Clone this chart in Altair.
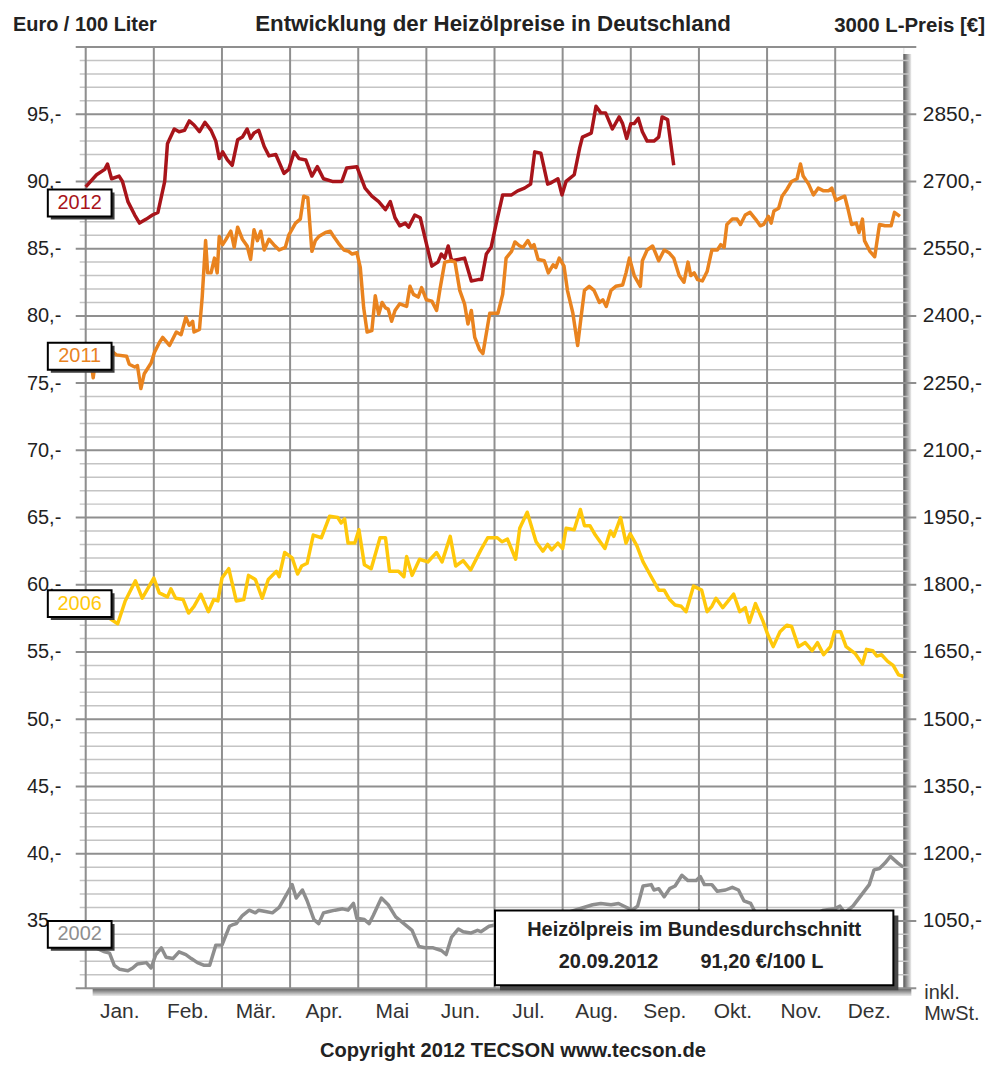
import json
import altair as alt
import pandas as pd

FONT = "Liberation Sans"
W, H = 821, 945

# ---------------- data ----------------
months = ["Jan.", "Feb.", "Mär.", "Apr.", "Mai", "Jun.", "Jul.", "Aug.", "Sep.", "Okt.", "Nov.", "Dez."]
years = ["2012", "2011", "2006", "2002"]
colors = ["#A8141A", "#E9831F", "#FFC80A", "#8E8E8E"]

# (month position, Euro / 100 Liter)
series_2012 = [(0.00,89.6),(0.16,90.5),(0.28,90.9),(0.32,91.3),(0.38,90.2),(0.49,90.4),(0.54,90.0),(0.62,88.5),(0.72,87.5),(0.79,86.9),
    (0.89,87.2),(0.98,87.5),(1.06,87.7),(1.16,90.0),(1.20,92.8),(1.30,93.9),(1.37,93.7),(1.45,93.8),(1.52,94.5),(1.59,94.2),
    (1.67,93.7),(1.75,94.4),(1.84,93.8),(1.91,93.0),(1.96,91.7),(2.01,92.2),(2.08,91.6),(2.15,91.2),(2.23,93.1),(2.30,93.3),
    (2.37,93.9),(2.42,93.2),(2.47,93.6),(2.54,93.8),(2.62,92.6),(2.69,91.9),(2.79,92.0),(2.91,90.6),(2.98,90.9),(3.06,92.2),
    (3.13,91.7),(3.23,91.6),(3.32,90.4),(3.40,91.1),(3.49,90.2),(3.62,90.0),(3.76,90.0),(3.83,91.0),(3.98,91.1),(4.10,89.5),
    (4.20,88.9),(4.30,88.5),(4.40,87.9),(4.47,88.5),(4.54,87.3),(4.61,86.7),(4.69,86.9),(4.74,86.6),(4.83,87.5),(4.91,87.3),
    (4.98,85.8),(5.08,83.7),(5.17,84.0),(5.22,84.6),(5.27,84.3),(5.32,85.2),(5.37,84.1),(5.47,84.2),(5.56,84.3),(5.66,82.6),
    (5.76,82.7),(5.81,82.7),(5.88,84.6),(5.95,85.1),(6.03,87.0),(6.12,89.0),(6.25,89.0),(6.34,89.3),(6.44,89.5),(6.53,89.8),
    (6.59,92.2),(6.68,92.1),(6.78,89.8),(6.83,89.9),(6.93,90.2),(6.99,89.0),(7.05,90.0),(7.17,90.5),(7.25,92.5),(7.29,93.3),
    (7.42,93.6),(7.49,95.6),(7.56,95.1),(7.63,95.1),(7.73,93.9),(7.83,94.8),(7.88,94.3),(7.94,93.2),(8.00,94.3),(8.05,94.3),
    (8.11,94.7),(8.17,93.7),(8.24,93.0),(8.34,93.0),(8.41,93.3),(8.46,94.8),(8.54,94.6),(8.63,91.2)]

series_2011 = [(0.00,77.5),(0.06,77.3),(0.11,75.4),(0.16,77.4),(0.40,77.3),(0.45,77.1),(0.60,77.0),(0.64,76.4),(0.72,76.2),(0.76,76.3),
    (0.81,74.6),(0.86,75.7),(0.96,76.5),(1.01,77.3),(1.08,78.0),(1.13,78.4),(1.23,77.8),(1.33,78.8),(1.40,78.6),(1.47,79.9),
    (1.52,79.3),(1.57,79.6),(1.59,78.8),(1.67,79.0),(1.71,81.4),(1.76,85.6),(1.79,83.2),(1.84,83.2),(1.89,84.3),(1.93,83.2),
    (1.96,85.9),(2.01,85.3),(2.06,85.7),(2.13,86.3),(2.18,85.1),(2.23,86.6),(2.30,85.7),(2.37,85.2),(2.42,84.2),(2.47,86.4),
    (2.52,85.6),(2.57,86.3),(2.62,84.9),(2.69,85.7),(2.76,85.3),(2.84,84.9),(2.93,85.1),(2.98,86.0),(3.08,86.9),(3.15,87.2),
    (3.20,88.9),(3.26,88.8),(3.32,84.8),(3.37,85.6),(3.42,85.9),(3.52,86.2),(3.59,86.3),(3.64,85.9),(3.71,85.4),(3.79,84.9),
    (3.86,84.8),(3.91,84.6),(3.98,84.7),(4.03,83.6),(4.08,80.6),(4.13,78.8),(4.20,78.9),(4.25,81.5),(4.30,80.1),(4.35,81.0),
    (4.40,80.6),(4.44,80.5),(4.49,79.6),(4.54,80.4),(4.61,80.9),(4.71,80.7),(4.76,82.2),(4.81,81.6),(4.88,81.4),(4.93,82.1),
    (5.00,81.2),(5.08,81.1),(5.15,80.4),(5.20,82.0),(5.27,84.0),(5.37,84.1),(5.42,84.0),(5.49,81.9),(5.56,80.9),(5.61,79.4),
    (5.66,80.4),(5.71,78.4),(5.78,77.5),(5.83,77.2),(5.93,80.2),(6.05,80.2),(6.12,81.6),(6.17,84.3),(6.25,84.8),(6.30,85.5),
    (6.37,85.2),(6.42,85.1),(6.49,85.6),(6.54,85.1),(6.58,85.3),(6.64,84.2),(6.73,84.1),(6.79,83.2),(6.86,83.8),(6.90,83.6),
    (6.95,84.3),(7.02,83.7),(7.07,81.9),(7.15,80.2),(7.22,77.8),(7.27,79.9),(7.32,81.9),(7.39,82.2),(7.46,81.9),(7.54,81.0),
    (7.59,81.2),(7.64,80.7),(7.71,81.9),(7.78,82.2),(7.88,82.3),(7.93,83.2),(7.98,84.3),(8.05,83.0),(8.14,82.2),(8.17,84.1),
    (8.24,84.9),(8.32,85.2),(8.41,84.1),(8.49,84.9),(8.56,84.7),(8.63,84.3),(8.71,83.0),(8.78,82.5),(8.84,84.0),(8.88,83.0),
    (8.93,83.2),(8.98,82.7),(9.05,82.6),(9.12,83.3),(9.19,84.9),(9.27,84.9),(9.32,85.3),(9.37,85.1),(9.41,86.8),(9.49,87.2),
    (9.56,87.2),(9.61,86.8),(9.68,87.5),(9.75,87.7),(9.83,87.2),(9.90,86.7),(9.95,86.8),(10.02,87.4),(10.06,86.9),(10.10,87.8),
    (10.17,88.0),(10.22,88.9),(10.29,89.4),(10.36,90.0),(10.44,90.2),(10.49,91.3),(10.53,90.4),(10.61,89.8),(10.68,89.0),(10.75,89.5),
    (10.83,89.3),(10.90,89.3),(10.95,89.5),(11.01,88.6),(11.09,88.8),(11.14,88.9),(11.19,87.9),(11.24,86.8),(11.31,86.9),(11.35,86.2),
    (11.40,87.2),(11.43,85.6),(11.51,84.8),(11.58,84.4),(11.65,86.8),(11.73,86.7),(11.82,86.7),(11.87,87.7),(11.95,87.4)]

series_2006 = [(0.00,57.6),(0.20,57.7),(0.35,57.5),(0.47,57.1),(0.58,58.8),(0.73,60.3),(0.83,59.0),(1.00,60.5),(1.08,59.4),(1.20,59.1),
    (1.25,59.7),(1.32,59.0),(1.43,58.9),(1.51,57.9),(1.59,58.4),(1.69,59.3),(1.80,58.0),(1.88,58.9),(1.94,58.8),(2.00,60.5),
    (2.10,61.2),(2.21,58.8),(2.32,58.9),(2.39,60.7),(2.49,60.4),(2.59,59.0),(2.68,60.4),(2.80,61.0),(2.84,60.6),(2.92,62.4),
    (3.03,62.0),(3.11,60.8),(3.17,61.4),(3.25,61.6),(3.34,63.7),(3.46,63.5),(3.58,65.1),(3.70,65.0),(3.75,64.6),(3.80,64.9),
    (3.85,63.1),(3.95,63.1),(4.01,64.1),(4.09,61.5),(4.19,61.2),(4.32,63.5),(4.40,63.5),(4.46,61.0),(4.59,61.0),(4.67,60.6),
    (4.71,62.1),(4.79,60.7),(4.90,61.9),(5.02,61.7),(5.15,62.4),(5.23,61.7),(5.35,63.6),(5.43,61.4),(5.54,61.8),(5.65,61.1),
    (5.80,62.6),(5.90,63.5),(6.04,63.5),(6.11,63.2),(6.19,63.4),(6.31,61.9),(6.37,64.2),(6.48,65.4),(6.61,63.2),(6.71,62.5),
    (6.78,63.0),(6.84,62.6),(6.93,63.1),(7.00,62.7),(7.05,64.2),(7.17,64.1),(7.26,65.6),(7.32,64.4),(7.40,64.4),(7.48,63.7),
    (7.62,62.7),(7.70,64.0),(7.75,63.6),(7.85,65.0),(7.93,63.1),(7.99,63.8),(8.09,62.9),(8.18,61.7),(8.30,60.6),(8.41,59.6),
    (8.49,59.6),(8.57,58.9),(8.65,58.5),(8.74,58.4),(8.81,58.0),(8.92,59.9),(9.04,59.6),(9.12,58.0),(9.19,58.4),(9.25,59.0),
    (9.35,58.3),(9.51,59.3),(9.60,58.0),(9.68,58.3),(9.74,57.2),(9.83,58.6),(9.94,57.3),(10.01,56.3),(10.09,55.4),(10.19,56.5),
    (10.29,57.0),(10.36,56.9),(10.46,55.4),(10.56,55.7),(10.66,55.1),(10.74,55.7),(10.83,54.8),(10.93,55.4),(10.99,56.5),(11.08,56.5),
    (11.16,55.4),(11.29,54.9),(11.40,54.1),(11.46,55.2),(11.55,55.1),(11.61,54.7),(11.68,54.8),(11.77,54.3),(11.85,54.0),(11.93,53.3),
    (12.00,53.2)]

series_2002 = [(0.00,33.4),(0.15,33.0),(0.28,32.7),(0.35,32.6),(0.42,31.7),(0.50,31.4),(0.62,31.3),(0.69,31.5),(0.76,31.8),(0.89,31.9),
    (0.96,31.5),(1.03,32.5),(1.11,33.0),(1.18,32.3),(1.28,32.2),(1.37,32.7),(1.47,32.5),(1.55,32.2),(1.64,31.9),(1.74,31.7),
    (1.82,31.7),(1.91,33.2),(2.00,33.2),(2.11,34.6),(2.15,34.7),(2.21,34.8),(2.30,35.4),(2.40,35.8),(2.49,35.6),(2.54,35.8),
    (2.64,35.7),(2.74,35.6),(2.84,36.0),(2.93,36.8),(3.03,37.7),(3.09,36.7),(3.18,37.3),(3.25,36.5),(3.35,35.1),(3.42,34.8),
    (3.49,35.6),(3.57,35.7),(3.66,35.8),(3.77,35.9),(3.85,35.8),(3.93,36.3),(3.98,35.2),(4.09,35.1),(4.16,34.8),(4.22,35.4),
    (4.34,36.7),(4.44,36.2),(4.55,35.3),(4.67,34.8),(4.79,34.3),(4.89,33.1),(4.98,33.0),(5.10,33.0),(5.22,32.8),(5.29,32.5),
    (5.37,33.8),(5.47,34.4),(5.54,34.2),(5.65,34.1),(5.75,34.3),(5.80,34.2),(5.92,34.6),(6.01,34.7),(6.30,34.9),(6.70,35.2),
    (7.05,35.6),(7.44,36.2),(7.56,36.3),(7.71,36.2),(7.82,36.3),(7.94,36.0),(8.02,35.8),(8.10,36.1),(8.18,37.6),(8.30,37.7),
    (8.34,37.3),(8.41,37.4),(8.49,36.8),(8.57,37.4),(8.65,37.6),(8.75,38.4),(8.84,38.0),(8.96,38.0),(9.02,38.3),(9.08,37.7),
    (9.19,37.7),(9.27,37.2),(9.39,37.3),(9.49,37.5),(9.58,37.3),(9.66,36.5),(9.76,36.3),(9.82,35.7),(10.00,35.0),(10.40,34.8),
    (10.83,35.8),(10.99,35.9),(11.07,36.1),(11.14,35.6),(11.26,36.1),(11.38,36.9),(11.50,37.7),(11.57,38.8),(11.65,38.9),(11.73,39.3),
    (11.81,39.8),(11.92,39.3),(12.00,39.0)]

# value level at which each year's tag sits (left of the plot)
label_values = [88.4, 77.0, 58.6, 34.0]
label_month = -0.088

info_date = "20.09.2012"

# ---------------- tables ----------------
rows = []
for year, pts in zip(years, [series_2012, series_2011, series_2006, series_2002]):
    for i, (m, v) in enumerate(pts):
        rows.append({"year": year, "m": m, "v": v, "order": i})
df = pd.DataFrame(rows)

minor_df = pd.DataFrame({"v": [v for v in range(31, 100) if v % 5]})
major_df = pd.DataFrame({"v": list(range(30, 101, 5))})
tick_df = pd.DataFrame({"v": list(range(35, 100, 5))})
month_df = pd.DataFrame({"b": list(range(0, 12))})
month_lab_df = pd.DataFrame({"c": [i + 0.5 for i in range(12)], "name": months})
tags_df = pd.DataFrame({"year": years, "m": [label_month] * 4, "v": label_values})

xs = alt.Scale(domain=[0, 12], nice=False, zero=False)
ys = alt.Scale(domain=[30, 100], nice=False, zero=False)
cs = alt.Scale(domain=years, range=colors)

GRID_DARK = "#8F8F8F"
GRID_LIGHT = "#C4C4C4"

# ---------------- layers ----------------
one = pd.DataFrame({"a": [0]})

shadow_right = alt.Chart(one).mark_rect(
    fill={"gradient": "linear", "x1": 0, "x2": 1, "y1": 0, "y2": 0,
          "stops": [{"offset": 0, "color": "#555555"}, {"offset": 1, "color": "#EDEDED"}]}
).encode(x=alt.value(W), x2=alt.value(W + 8), y=alt.value(7), y2=alt.value(H + 8))

shadow_bottom = alt.Chart(one).mark_rect(
    fill={"gradient": "linear", "x1": 0, "x2": 0, "y1": 0, "y2": 1,
          "stops": [{"offset": 0, "color": "#555555"}, {"offset": 1, "color": "#EDEDED"}]}
).encode(x=alt.value(7), x2=alt.value(W + 8), y=alt.value(H), y2=alt.value(H + 8))

minor_grid = alt.Chart(minor_df).mark_rule(color=GRID_LIGHT, strokeWidth=1.5).encode(
    y=alt.Y("v:Q", scale=ys, axis=None), x=alt.value(-6), x2=alt.value(W + 6))

major_grid = alt.Chart(major_df).mark_rule(color=GRID_DARK, strokeWidth=2).encode(
    y=alt.Y("v:Q", scale=ys, axis=None), x=alt.value(-10), x2=alt.value(W + 13))

month_lines = alt.Chart(month_df).mark_rule(color=GRID_DARK, strokeWidth=2).encode(
    x=alt.X("b:Q", scale=xs, axis=None), y=alt.value(0), y2=alt.value(H))

month_labels = alt.Chart(month_lab_df).mark_text(
    fontSize=21, font=FONT, color="#333333", baseline="middle"
).encode(x=alt.X("c:Q", scale=xs, axis=None), y=alt.value(969), text="name:N")

lines = alt.Chart(df).mark_line(strokeWidth=3.5, strokeJoin="round").encode(
    x=alt.X("m:Q", scale=xs, axis=None),
    y=alt.Y("v:Q", scale=ys, axis=alt.Axis(
        orient="left", values=list(range(35, 100, 5)), labelExpr="datum.value + ',-'",
        domain=False, ticks=False, grid=False, labelPadding=25, labelFontSize=20,
        labelFont=FONT, labelColor="#222222", title=None)),
    color=alt.Color("year:N", scale=cs, legend=None),
    order="order:Q",
)

right_axis = alt.Chart(tick_df).mark_point(opacity=0).encode(
    y=alt.Y("v:Q", scale=ys, axis=alt.Axis(
        orient="right", values=list(range(35, 100, 5)), labelExpr="(datum.value * 30) + ',-'",
        domain=False, ticks=False, grid=False, labelPadding=19, labelAlign="left",
        labelFontSize=21, labelFont=FONT, labelColor="#222222", title=None)),
    x=alt.value(W),
)

# info box
IB = (411, 811, 867, 942)
info_shadow = alt.Chart(one).mark_rect(color="#4A4A4A").encode(
    x=alt.value(IB[0] + 5), x2=alt.value(IB[1] + 5), y=alt.value(IB[2] + 5), y2=alt.value(IB[3] + 5))
info_box = alt.Chart(one).mark_rect(fill="white", stroke="black", strokeWidth=2).encode(
    x=alt.value(IB[0]), x2=alt.value(IB[1]), y=alt.value(IB[2]), y2=alt.value(IB[3]))


def label(text, x, y, size, weight="normal", align="center", color="#222222"):
    return alt.Chart(pd.DataFrame({"t": [text]})).mark_text(
        align=align, baseline="middle", fontSize=size, fontWeight=weight, font=FONT, color=color
    ).encode(x=alt.value(x), y=alt.value(y), text="t:N")


price_text = f"{series_2012[-1][1]:.2f}".replace(".", ",") + " €/100 L"

info_t1 = label("Heizölpreis im Bundesdurchschnitt", 611, 887, 20, "bold")
info_t2 = label(info_date, 525, 919, 20, "bold")
info_t3 = label(price_text, 679, 919, 20, "bold")

# year tags
dx_shadow = 3 * 12 / W
dy_shadow = 3 * 70 / H
tag_shadow = alt.Chart(tags_df).transform_calculate(
    ms=f"datum.m + {dx_shadow}", vs=f"datum.v - {dy_shadow}"
).mark_rect(width=64, height=27, color="#3C3C3C").encode(
    x=alt.X("ms:Q", scale=xs, axis=None), y=alt.Y("vs:Q", scale=ys, axis=None))
tag_box = alt.Chart(tags_df).mark_rect(width=64, height=27, fill="white", stroke="black", strokeWidth=2).encode(
    x=alt.X("m:Q", scale=xs, axis=None), y=alt.Y("v:Q", scale=ys, axis=None))
tag_text = alt.Chart(tags_df).mark_text(fontSize=20, font=FONT, baseline="middle").encode(
    x=alt.X("m:Q", scale=xs, axis=None), y=alt.Y("v:Q", scale=ys, axis=None),
    text="year:N", color=alt.Color("year:N", scale=cs, legend=None))

head_left = label("Euro / 100 Liter", -73, -22, 20, "bold", "left")
head_mid = label("Entwicklung der Heizölpreise in Deutschland", 409, -23, 22.4, "bold")
head_right = label("3000 L-Preis [€]", 903, -21, 20.5, "bold", "right")
inkl1 = label("inkl.", 842, 950, 20, "normal", "left", "#333333")
inkl2 = label("MwSt.", 842, 971, 20, "normal", "left", "#333333")
copyright_t = label("Copyright 2012 TECSON  www.tecson.de", 429, 1008, 20.2, "bold")

chart = alt.layer(
    shadow_right, shadow_bottom, minor_grid, major_grid, month_lines, lines, right_axis,
    month_labels,
    info_shadow, info_box, info_t1, info_t2, info_t3,
    tag_shadow, tag_box, tag_text,
    head_left, head_mid, head_right, inkl1, inkl2, copyright_t,
).resolve_scale(x="shared", y="shared").resolve_axis(y="independent").properties(
    width=W, height=H,
    autosize=alt.AutoSizeParams(type="none"),
    padding={"left": 78, "top": 37, "right": 84, "bottom": 72},
).configure_view(fill="#ECECEC", stroke=None).configure(font=FONT)

chart.save("out.html", embed_options={"renderer": "svg", "actions": False})
